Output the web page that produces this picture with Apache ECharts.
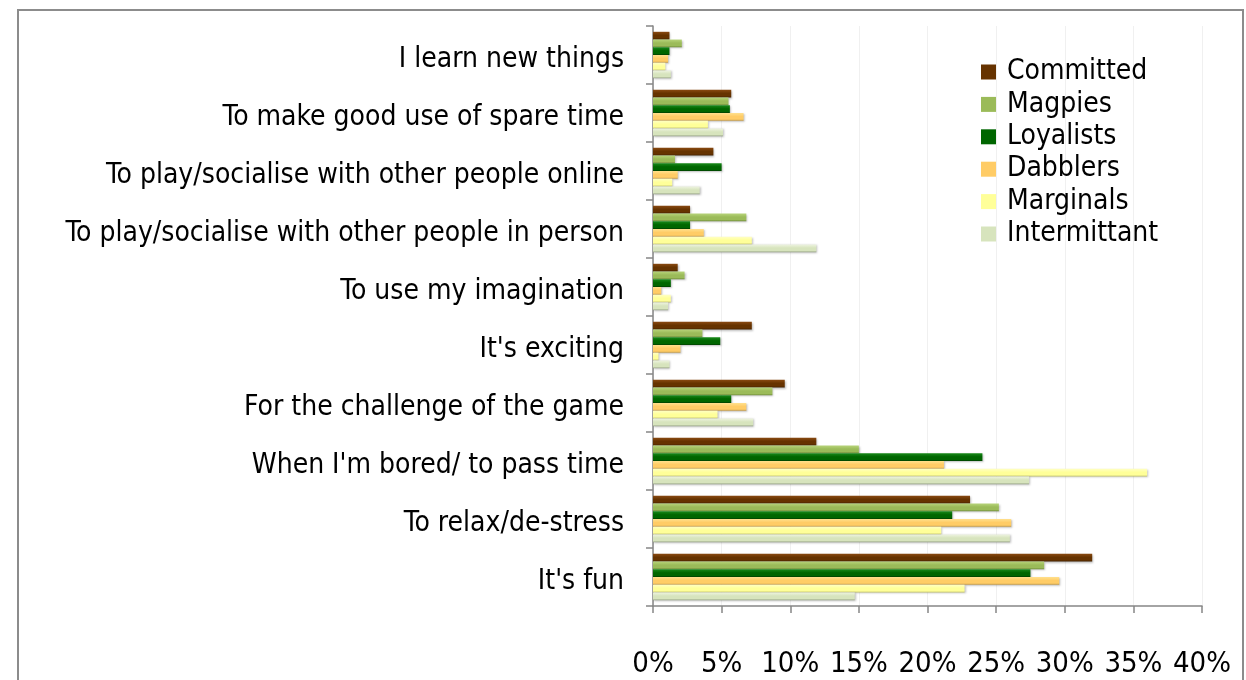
<!DOCTYPE html>
<html>
<head>
<meta charset="utf-8">
<script src="https://cdn.jsdelivr.net/npm/echarts@6/dist/echarts.min.js"></script>
<style>
html,body{margin:0;padding:0;background:#fff;}
#chart{width:1246px;height:680px;}
</style>
</head>
<body>
<div id="chart"></div>
<script>
var categories = [
  "I learn new things",
  "To make good use of spare time",
  "To play/socialise with other people online",
  "To play/socialise with other people in person",
  "To use my imagination",
  "It's exciting",
  "For the challenge of the game",
  "When I'm bored/ to pass time",
  "To relax/de-stress",
  "It's fun"
];
var seriesNames = ["Committed", "Magpies", "Loyalists", "Dabblers", "Marginals", "Intermittant"];
var committed    = [1.2, 5.7, 4.4, 2.7, 1.8, 7.2, 9.6, 11.9, 23.1, 32.0];
var magpies      = [2.1, 5.5, 1.6, 6.8, 2.3, 3.6, 8.7, 15.0, 25.2, 28.5];
var loyalists    = [1.2, 5.6, 5.0, 2.7, 1.3, 4.9, 5.7, 24.0, 21.8, 27.5];
var dabblers     = [1.1, 6.6, 1.8, 3.7, 0.6, 2.0, 6.8, 21.2, 26.1, 29.6];
var marginals    = [0.9, 4.0, 1.4, 7.2, 1.3, 0.4, 4.7, 36.0, 21.0, 22.7];
var intermittant = [1.3, 5.1, 3.4, 11.9, 1.1, 1.2, 7.3, 27.4, 26.0, 14.7];
var xTicks = [0, 5, 10, 15, 20, 25, 30, 35, 40];

var values = [committed, magpies, loyalists, dabblers, marginals, intermittant];
var colors = [
  ["#8a4a12", "#663300", "#3f1f00"],
  ["#b7d47a", "#9bbb59", "#6e8a3a"],
  ["#1a8a1a", "#006600", "#003d00"],
  ["#ffe08e", "#ffcc66", "#c49a45"],
  ["#ffffc4", "#ffff99", "#c8c870"],
  ["#eef4e0", "#d7e4bd", "#9aa68a"]
];
var FONT = "DejaVu Sans Condensed";

var chart = echarts.init(document.getElementById('chart'));
var series = seriesNames.map(function (name, i) {
  return {
    name: name,
    type: 'bar',
    data: values[i],
    barGap: '0%',
    barCategoryGap: '20%',
    itemStyle: {
      color: new echarts.graphic.LinearGradient(0, 0, 0, 1, [
        {offset: 0, color: colors[i][0]},
        {offset: 0.45, color: colors[i][1]},
        {offset: 0.8, color: colors[i][1]},
        {offset: 1, color: colors[i][2]}
      ]),
      shadowColor: 'rgba(0,0,0,0.25)',
      shadowBlur: 2,
      shadowOffsetX: 1,
      shadowOffsetY: 1
    },
    emphasis: {disabled: true},
    animation: false
  };
});

chart.setOption({
  animation: false,
  color: colors.map(function (c) { return c[1]; }),
  graphic: [{
    type: 'rect',
    shape: {x: 18, y: 10, width: 1225, height: 700},
    style: {fill: 'none', stroke: '#8c8c8c', lineWidth: 2},
    silent: true,
    z: -1
  }],
  legend: {
    orient: 'vertical',
    left: 976,
    top: 53,
    itemWidth: 15,
    itemHeight: 15,
    itemGap: 4.4,
    icon: 'rect',
    textStyle: {fontFamily: FONT, fontSize: 28, color: '#000', padding: [0, 0, 0, 6]},
    data: seriesNames.map(function (n, i) {
      return {name: n, itemStyle: {color: colors[i][1], shadowBlur: 0, shadowOffsetX: 0, shadowOffsetY: 0, shadowColor: 'transparent'}};
    })
  },
  grid: {
    left: 653,
    right: 44,
    top: 26,
    bottom: 74,
    containLabel: false,
    outerBoundsMode: 'none'
  },
  xAxis: {
    type: 'value',
    min: 0,
    max: 40,
    interval: 5,
    axisLine: {show: true, lineStyle: {color: '#868686', width: 1.5}},
    axisTick: {show: true, length: 7, lineStyle: {color: '#868686', width: 1.5}},
    splitLine: {show: true, lineStyle: {color: '#f0f0f0', width: 1}},
    axisLabel: {
      margin: 44,
      fontFamily: FONT,
      fontSize: 29,
      color: '#000',
      formatter: function (v) { return v + '%'; }
    }
  },
  yAxis: {
    type: 'category',
    inverse: true,
    data: categories,
    axisLine: {show: true, lineStyle: {color: '#868686', width: 1.5}},
    axisTick: {show: true, length: 7, lineStyle: {color: '#868686', width: 1.5}},
    axisLabel: {
      margin: 29,
      fontFamily: FONT,
      fontSize: 28,
      color: '#000',
      formatter: function (v) { return '{a|' + v + '}'; },
      rich: {
        a: {fontFamily: FONT, fontSize: 28, color: '#000', padding: [10, 0, 0, 0]}
      }
    }
  },
  series: series
});
</script>
</body>
</html>
